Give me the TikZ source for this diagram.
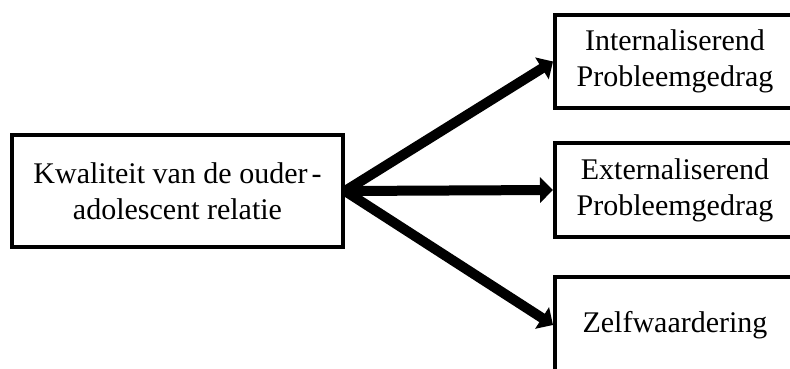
\documentclass[tikz,border=0pt]{standalone}
\usepackage{fontspec}
\setmainfont{Liberation Serif}
\usetikzlibrary{arrows.meta}
\tikzset{
  box/.style={draw=black, line width=4pt, fill=white, align=center, inner sep=0pt,
    font=\fontsize{30}{36}\selectfont},
  conn/.style={line width=10pt, -{Triangle[length=13pt,width=25pt]}}
}
\begin{document}
\begin{tikzpicture}[x=1pt,y=-1pt]
\useasboundingbox (0,0) rectangle (790,369);
\clip (0,0) rectangle (790,369);
\node[box, minimum width=331pt, minimum height=112pt] (src) at (177.5,191) {Kwaliteit van de ouder\kern4pt-\\adolescent relatie};
\node[box, minimum width=240pt, minimum height=93pt] (int) at (675,61.5) {Internaliserend\\Probleemgedrag};
\node[box, minimum width=240pt, minimum height=94pt] (ext) at (675,190) {Externaliserend\\Probleemgedrag};
\node[box, minimum width=240pt, minimum height=96pt] (zelf) at (675,325) {Zelfwaardering};
\coordinate (o) at (src.east);
\draw[conn] (o) -- (int.west);
\draw[conn] (o) -- (ext.west);
\draw[conn] (o) -- (zelf.west);
\end{tikzpicture}
\end{document}
